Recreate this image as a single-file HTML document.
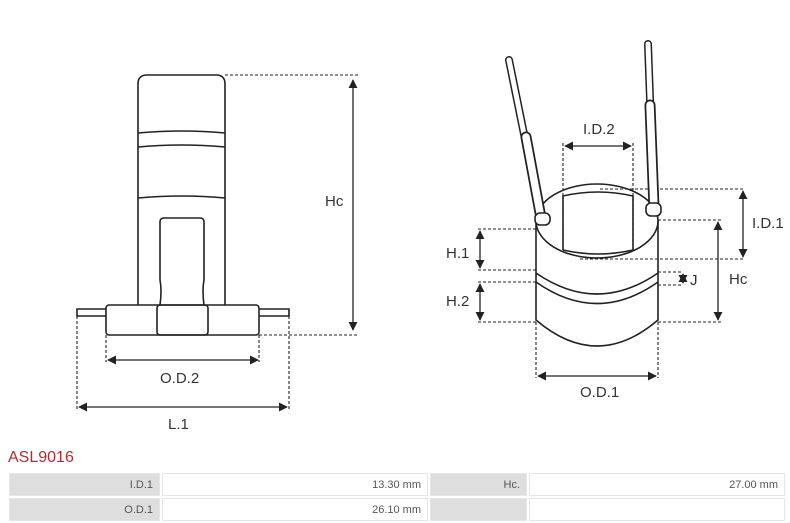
<!DOCTYPE html>
<html><head><style>
body{margin:0;width:790px;height:523px;background:#fff;overflow:hidden;font-family:"Liberation Sans",sans-serif}
svg{position:absolute;left:0;top:0}
.t{position:absolute;left:8px;top:449px;color:#c0272d;font-size:16px}
table{position:absolute;left:7px;top:471px;border-collapse:separate;border-spacing:2px;width:780px;font-size:11px;color:#555}
td{height:21px;text-align:right;padding:0 6px;border:1px solid #e6e6e6}
td.g{background:#dedede}
</style></head><body>
<svg width="790" height="440" viewBox="0 0 790 440" font-family="Liberation Sans, sans-serif" font-size="15" fill="none" stroke="#222">
<defs>
<marker id="e" viewBox="0 0 10 10" refX="9" refY="5" markerWidth="7" markerHeight="7" orient="auto"><path d="M0 0L10 5L0 10z" fill="#222" stroke="none"/></marker>
<marker id="s" viewBox="0 0 10 10" refX="1" refY="5" markerWidth="7" markerHeight="7" orient="auto"><path d="M10 0L0 5L10 10z" fill="#222" stroke="none"/></marker>
</defs>
<g stroke-width="1.6">
<path d="M138 305V84Q138 75 147 75H216Q225 75 225 84V305"/>
<path d="M138 133Q182 129 225 133M138 147Q182 143 225 147M138 198Q182 194 225 198"/>
<path d="M160 305Q162 290 160 280V222Q160 218 164 218H200Q204 218 204 222V280Q202 290 204 305"/>
<rect x="106" y="305" width="153" height="30" rx="3" fill="#fff"/>
<rect x="157" y="305" width="51" height="30" rx="3"/>
<path d="M106 309H77V316H106M259 309H289V316H259"/>
</g>
<g stroke-width="1.1" stroke-dasharray="3,2">
<path d="M225 75H358M259 335H358M106 335V362M259 335V362M77 316V410M289 316V410"/>
<path d="M600 189H745M580 259H745M658 220H722M658 322H722M658 272H683M658 285H683M478 229H536M478 270H536M478 282H536M478 322H536M536 322V378M658 322V378M563 143V250M633 143V250"/>
</g>
<g stroke-width="1.3" marker-start="url(#s)" marker-end="url(#e)">
<path d="M353 80V330"/><path d="M108 360H258"/><path d="M79 407H287"/><path d="M565 146H631"/><path d="M743 191V257"/><path d="M718 222V320"/><path d="M683 274V283"/><path d="M480 231V268"/><path d="M480 284V320"/><path d="M538 376H656"/>
</g>
<g stroke-width="1.6">
<ellipse cx="597" cy="221" rx="61" ry="37"/>
<path d="M563 250V196Q598 188 633 196V250Q598 258 563 250"/>
<path d="M536 221V320Q597 372 658 320V221M536 273Q597 315 658 273M536 282Q597 325 658 282"/>
</g>
<g stroke-linecap="round">
<path d="M509 60L541 218" stroke="#222" stroke-width="8"/>
<path d="M509 60L541 218" stroke="#fff" stroke-width="5"/>
<path d="M526 137L541 218" stroke="#222" stroke-width="11"/>
<path d="M526 137L541 218" stroke="#fff" stroke-width="7.5"/>
<path d="M648 44L654 208" stroke="#222" stroke-width="8"/>
<path d="M648 44L654 208" stroke="#fff" stroke-width="5"/>
<path d="M650 105L654 208" stroke="#222" stroke-width="11"/>
<path d="M650 105L654 208" stroke="#fff" stroke-width="7.5"/>
</g>
<g stroke-width="1.6">
<rect x="535" y="213" width="15" height="12" rx="5" fill="#fff"/>
<rect x="646" y="203" width="15" height="13" rx="5" fill="#fff"/>
</g>
<g fill="#333" stroke="none">
<text x="325" y="206">Hc</text><text x="160" y="383">O.D.2</text><text x="168" y="429">L.1</text>
<text x="583" y="134">I.D.2</text><text x="752" y="228">I.D.1</text><text x="729" y="284">Hc</text><text x="690" y="285">J</text>
<text x="446" y="258">H.1</text><text x="446" y="306">H.2</text><text x="580" y="397">O.D.1</text>
</g>
</svg>
<div class="t">ASL9016</div>
<table>
<tr><td class="g" style="width:137px">I.D.1</td><td style="width:252px">13.30 mm</td><td class="g" style="width:83px">Hc.</td><td>27.00 mm</td></tr>
<tr><td class="g">O.D.1</td><td>26.10 mm</td><td class="g"></td><td></td></tr>
</table>
</body></html>
